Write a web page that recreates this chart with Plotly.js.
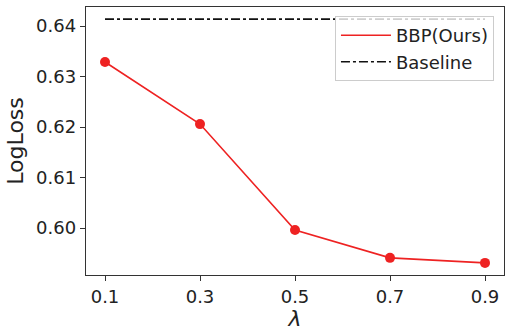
<!DOCTYPE html>
<html><head><meta charset="utf-8">
<script src="https://cdn.plot.ly/plotly-3.0.1.min.js"></script>
<style>body{margin:0;padding:0;background:#fff}#chart{width:505px;height:331px}</style>
</head><body><div id="chart"></div>
<script>
const lambdas = [0.1, 0.3, 0.5, 0.7, 0.9];
const bbpLoss = [0.6329, 0.6206, 0.5996, 0.5941, 0.5931];
const baselineX = [0.1, 0.9];
const baselineLoss = [0.6414, 0.6414];
const xTicks = [0.1, 0.3, 0.5, 0.7, 0.9];
const xTickLabels = ['0.1', '0.3', '0.5', '0.7', '0.9'];
const yTicks = [0.60, 0.61, 0.62, 0.63, 0.64];
const yTickLabels = ['0.60', '0.61', '0.62', '0.63', '0.64'];

const red = '#ee2222';
const traces = [
  {x: lambdas, y: bbpLoss, name: 'BBP(Ours)', mode: 'lines+markers', showlegend: false,
   line: {color: red, width: 1.6}, marker: {color: red, size: 10}},
  {x: [null], y: [null], name: 'BBP(Ours)', mode: 'lines', line: {color: red, width: 1.6}},
  {x: baselineX, y: baselineLoss, name: 'Baseline', mode: 'lines',
   line: {color: '#111111', width: 1.6, dash: 'dashdot'}}
];
const layout = {
  width: 505, height: 331,
  margin: {l: 86, r: 1, t: 7, b: 56},
  paper_bgcolor: '#fff', plot_bgcolor: '#fff',
  font: {family: 'DejaVu Sans', size: 18, color: '#222'},
  showlegend: true,
  legend: {x: 0.976, y: 0.966, xanchor: 'right', yanchor: 'top',
    bgcolor: 'rgba(255,255,255,0.8)', bordercolor: '#cccccc', borderwidth: 1,
    font: {family: 'DejaVu Sans', size: 18, color: '#222'}, itemwidth: 50, tracegroupgap: 0},
  xaxis: {range: [0.06, 0.94], tickvals: xTicks, ticktext: xTickLabels,
    showgrid: false, zeroline: false, showline: true, mirror: true, linecolor: '#333', linewidth: 1.2,
    ticks: 'outside', ticklen: 5, tickcolor: '#333',
    title: {text: '<i>λ</i>', font: {family: 'DejaVu Sans', size: 22, color: '#222'}, standoff: 2}},
  yaxis: {range: [0.5907, 0.6438], tickvals: yTicks, ticktext: yTickLabels,
    showgrid: false, zeroline: false, showline: true, mirror: true, linecolor: '#333', linewidth: 1.2,
    ticks: 'outside', ticklen: 5, tickcolor: '#333',
    title: {text: 'LogLoss', font: {family: 'DejaVu Sans', size: 22, color: '#222'}, standoff: 6}}
};
Plotly.newPlot('chart', traces, layout, {displayModeBar: false, staticPlot: true});
</script></body></html>
